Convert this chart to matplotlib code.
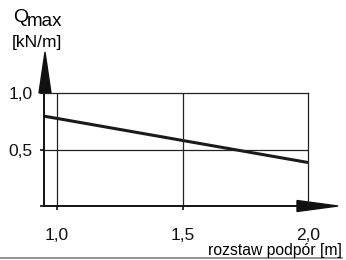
import matplotlib
matplotlib.use('Agg')
import matplotlib.pyplot as plt
from matplotlib.patches import Polygon

plt.rcParams['font.family'] = ['Liberation Sans', 'DejaVu Sans']

# data
span = [0.948, 1.0, 1.5, 2.0]
q_max = [0.795, 0.775, 0.58, 0.385]
x_ticks = [1.0, 1.5, 2.0]
x_tick_labels = ['1,0', '1,5', '2,0']
y_ticks = [0.5, 1.0]
y_tick_labels = ['0,5', '1,0']

W, H = 346, 260
fig = plt.figure(figsize=(W / 100, H / 100), dpi=100)
# axes box in pixels: x 44..308, y 93..206
ax = fig.add_axes([44 / W, (H - 206) / H, (308 - 44) / W, (206 - 93) / H])

ax.plot(span, q_max, color='#1a1a1a', lw=2.2, solid_capstyle='butt', clip_on=False)

ax.set_xlim(span[0], 2.0)
ax.set_ylim(0, 1.0)

for x in [1.0, 1.5]:
    ax.axvline(x, color='#222222', lw=0.9)
ax.axhline(0.5, color='#222222', lw=0.9)

for side in ['top', 'right']:
    ax.spines[side].set_linewidth(0.9)
    ax.spines[side].set_color('#222222')
for side in ['left', 'bottom']:
    ax.spines[side].set_linewidth(1.4)
    ax.spines[side].set_color('#111111')

ax.set_xticks(x_ticks, x_tick_labels)
ax.set_yticks([0.0] + y_ticks, [''] + y_tick_labels)
ax.tick_params(axis='x', direction='out', length=3, width=1.2, pad=13,
               labelsize=12.5, colors='#111111')
ax.tick_params(axis='y', direction='out', length=3, width=1.2, pad=5,
               labelsize=12.5, colors='#111111')

# arrows at the axis ends
aw, ah = 308 - 44, 206 - 93
up = Polygon([(-5 / aw, 1.0), (7 / aw, 1.0), (1 / aw, (206 - 52) / ah)],
             closed=True, color='#111111', transform=ax.transAxes, clip_on=False)
right = Polygon([((297 - 44) / aw, 5.5 / ah), ((297 - 44) / aw, -5.5 / ah),
                 ((338 - 44) / aw, 0)],
                closed=True, color='#111111', transform=ax.transAxes, clip_on=False)
ax.add_patch(up)
ax.add_patch(right)
ax.plot([1.0, (297 - 44) / aw], [0, 0], color='#111111', lw=1.4,
        transform=ax.transAxes, clip_on=False)

# axis titles
fig.text(13 / W, 1 - 17 / H, 'Q', fontsize=14, va='center', ha='left')
fig.text(27 / W, 1 - 21 / H, 'max', fontsize=13.5, va='center', ha='left')
fig.text(12 / W, 1 - 43 / H, '[kN/m]', fontsize=12.5, va='center', ha='left')
fig.text(342 / W, 1 - 250 / H, 'rozstaw podpór [m]', fontsize=11.3,
         va='center', ha='right')

# bottom rule
fig.add_artist(plt.Line2D([0, 342 / W], [1 - 257.5 / H] * 2, color='#808080',
                          lw=1.2, transform=fig.transFigure))

fig.savefig('out.png', dpi=100)
